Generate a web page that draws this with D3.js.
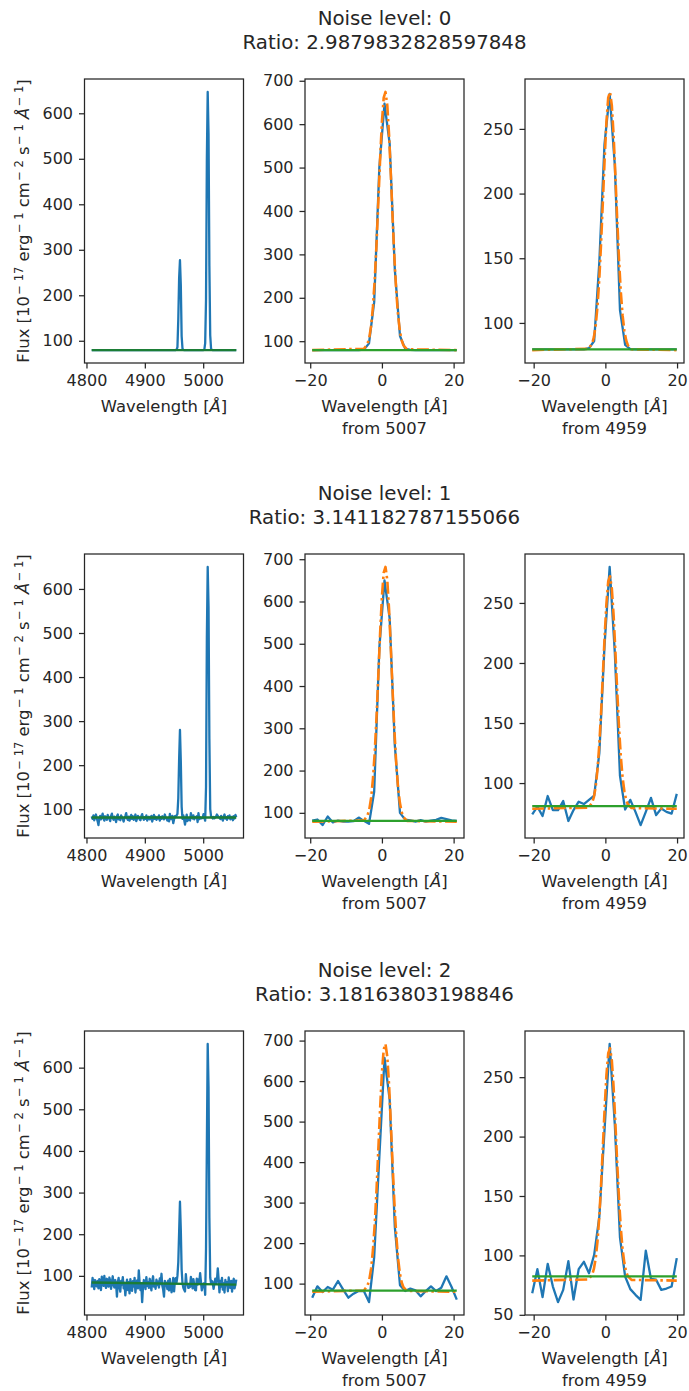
<!DOCTYPE html>
<html>
<head>
<meta charset="utf-8" />
<title>[OIII] line ratio vs noise level</title>
<script src="https://cdn.jsdelivr.net/npm/d3@7"></script>
<style>
  body { margin: 0; background: #fff; }
  svg text { font-family: "DejaVu Sans", sans-serif; fill: #262626; }
</style>
</head>
<body>
<script>
// ---------- DATA ----------
// wavelength grid of the spectrum (Angstrom)
var lamStart = 4809.0, lamStep = 1.44;

var noiseLevels = [0, 1, 2];
var ratios = ["2.9879832828597848", "3.141182787155066", "3.18163803198846"];
var lineCentres = [5007, 4959];

// observed flux, one value per pixel (173 pixels)
var flux0 = [
  79.5, 79.5, 79.5, 79.5, 79.5, 79.5, 79.5, 79.5, 79.5, 79.5,
  79.5, 79.5, 79.5, 79.5, 79.5, 79.5, 79.5, 79.5, 79.5, 79.5,
  79.5, 79.5, 79.5, 79.5, 79.5, 79.5, 79.5, 79.5, 79.5, 79.5,
  79.5, 79.5, 79.5, 79.5, 79.5, 79.5, 79.5, 79.5, 79.5, 79.5,
  79.5, 79.5, 79.5, 79.5, 79.5, 79.5, 79.5, 79.5, 79.5, 79.5,
  79.5, 79.5, 79.5, 79.5, 79.5, 79.5, 79.5, 79.5, 79.5, 79.5,
  79.5, 79.5, 79.5, 79.5, 79.5, 79.5, 79.5, 79.5, 79.5, 79.5,
  79.5, 79.5, 79.5, 79.5, 79.5, 79.5, 79.5, 79.5, 79.5, 79.5,
  79.5, 79.5, 79.5, 79.5, 79.5, 79.5, 79.5, 79.5, 79.5, 79.5,
  79.5, 79.5, 79.5, 79.5, 79.5, 79.5, 79.5, 79.5, 79.5, 79.5,
  79.5,
  80.5, 86, 147, 238, 277, 222, 110, 83, 79.8,          // 4959 line
  79.5, 79.5, 79.5, 79.5, 79.5, 79.5, 79.5, 79.5, 79.5, 79.5,
  79.5, 79.5, 79.5, 79.5, 79.5, 79.5, 79.5, 79.5, 79.5, 79.5,
  79.5, 79.5, 79.5, 79.5,
  80.5, 95, 190, 500, 647, 555, 265, 112, 83, 79.8,     // 5007 line
  79.5, 79.5, 79.5, 79.5, 79.5, 79.5, 79.5, 79.5, 79.5, 79.5,
  79.5, 79.5, 79.5, 79.5, 79.5, 79.5, 79.5, 79.5, 79.5, 79.5,
  79.5, 79.5, 79.5, 79.5, 79.5, 79.5, 79.5, 79.5, 79.5
];

var flux1 = [
  84, 78, 86, 75, 82, 88, 79, 73, 64, 80,
  85, 77, 83, 90, 79, 74, 84, 81, 76, 87,
  82, 78, 73, 85, 90, 80, 76, 83, 79, 71,
  84, 88, 77, 81, 75, 86, 82, 78, 72, 80,
  85, 91, 79, 76, 83, 74, 81, 87, 78, 84,
  76, 80, 88, 73, 79, 85, 82, 77, 75, 84,
  89, 80, 76, 82, 78, 86, 74, 81, 83, 77,
  79, 85, 72, 80, 87, 78, 83, 76, 81, 79,
  86, 74, 82, 78, 84, 80, 77, 88, 81, 79,
  74, 80.4, 72.6, 89.2, 77.5, 77.5, 85, 68.4, 77.5, 84.5,
  82.5, 86, 89.5, 125, 214, 280, 208.5, 106, 78, 86,
  76, 65, 76, 87.7, 73.3, 78.8, 76, 74.5, 91,
  83, 79, 86, 77, 82,
  81.8, 84.2, 71, 91.3, 77.4, 81.8, 79.4, 79.4, 80.2, 88.8,
  81, 74, 150, 490, 650, 560, 260, 100, 84, 82,
  79, 82.6, 79.4, 81.8, 83.4, 88, 85, 82, 81,
  78, 85, 80, 74, 83, 88, 79, 82, 76, 84,
  80, 86, 77, 81, 83, 75, 84, 79, 87, 82
];

var flux2 = [
  72, 95, 84, 68, 90, 78, 75, 88, 70, 92,
  81, 66, 98, 85, 76, 100, 79, 71, 93, 82,
  74, 96, 88, 69, 85, 99, 77, 72, 90, 80,
  50, 84, 95, 73, 62, 88, 79, 97, 70, 83,
  53, 76, 91, 66, 85, 58, 92, 78, 64, 87,
  74, 95, 60, 81, 89, 70, 113, 84, 66, 79,
  37, 72, 90, 83, 68, 97, 76, 85, 71, 93,
  80, 65, 88, 99, 74, 82, 69, 91, 78, 86,
  72, 94, 80, 105, 76, 67, 50, 88, 84, 79,
  68.2, 88.4, 64.9, 92.9, 73.8, 60.7, 71, 95.1, 62.9, 88.4,
  94.6, 85, 100.5, 132.7, 205, 278, 210, 115, 82.2, 71.6,
  66.8, 62.6, 104, 80.3, 79.5, 71, 72.1, 73.8, 97.7,
  85, 70, 92, 78, 66,
  65.3, 93.3, 79.2, 91.6, 85.1, 106.5, 85.1, 65.3, 75.2, 81.7,
  81.7, 54.4, 165, 413, 657, 554, 240, 96, 81.7, 87.6,
  83.5, 68.6, 81.7, 93.3, 81.7, 89.9, 118, 91.6, 60.4,
  88, 74, 95, 67, 82, 60, 90, 77, 85, 63,
  96, 79, 71, 88, 62, 84, 93, 70, 80, 91
];

// pixel index ranges shown in the zoomed panels
var window5007 = [124, 152];
var window4959 = [90, 118];

// fitted line model (offset from line centre, flux)
var fitOffsets5007 = [-5, -4, -3.5, -3, -2.5, -2, -1.5, -1, -0.5, 0, 0.5, 1, 1.5, 2, 2.5, 3, 3.5, 4, 4.5, 5, 5.5, 6, 7];
var fitOffsets4959 = [-4.7, -3.7, -3.2, -2.7, -2.2, -1.7, -1.2, -0.7, -0.2, 0.3, 0.8, 1.3, 1.8, 2.3, 2.8, 3.3, 3.8, 4.3, 4.8, 5.3, 5.8, 6.3, 7.3];
var fitBase5007 = [79.5, 79, 80];
var fitBase4959 = [79, 78.6, 78.8];
var fit5007 = [
  [82.5, 94.4, 109.3, 136.1, 179.6, 242.2, 324.5, 421, 520, 605, 661, 674.3, 643.3, 574.2, 481.2, 381.1, 289.3, 214.8, 160, 124.2, 102.1, 90.2, 81.3],
  [82, 94.1, 109.2, 136.4, 180.5, 243.9, 327.2, 425.1, 525.4, 611.7, 668.5, 681.8, 650.4, 580.3, 486.1, 384.6, 291.6, 216.1, 160.5, 124.3, 102, 89.9, 80.8],
  [83.1, 95.3, 110.7, 138.2, 183, 247.3, 332, 431.3, 533, 620.7, 678.3, 691.8, 659.9, 588.8, 493.2, 390.2, 295.8, 219.2, 162.8, 126, 103.3, 91, 81.8]
];
var fit4959 = [
  [80, 84, 89, 98, 112.6, 133.6, 161.2, 193.6, 226.8, 255.4, 274.2, 278.6, 268.2, 245, 213.8, 180.2, 149.4, 124.4, 106, 94, 86.6, 82.6, 79.6],
  [79.6, 83.5, 88.3, 97, 111.2, 131.6, 158.3, 189.8, 222, 249.7, 268, 272.2, 262.1, 239.6, 209.4, 176.8, 146.9, 122.6, 104.8, 93.2, 86, 82.1, 79.2],
  [79.8, 83.7, 88.6, 97.4, 111.7, 132.3, 159.4, 191.1, 223.6, 251.7, 270.1, 274.4, 264.2, 241.5, 210.9, 178, 147.8, 123.3, 105.3, 93.5, 86.2, 82.3, 79.4]
];

// continuum levels: full range (start, end), zoom windows
var contFull = [[79.5, 79.5], [81.2, 81.2], [84, 79]];
var cont5007 = [79.5, 81, 82.5];
var cont4959 = [79.5, 80.8, 82.4];

// ticks
var xTicksFull = [4800, 4900, 5000];
var xTicksZoom = [-20, 0, 20];
var yTicksFull = [100, 200, 300, 400, 500, 600];
var yTicks5007 = [100, 200, 300, 400, 500, 600, 700];
var yTicks4959 = [50, 100, 150, 200, 250];

// ---------- LAYOUT ----------
var W = 689, H = 1391;
var colX = [84.5, 305, 525], panelW = 159;
var rowY = [79, 554, 1031], panelH = 284;
var ink = "#262626";
var C0 = "#1f77b4", C1 = "#ff7f0e", C2 = "#2ca02c", C2dark = "#1b7d36";
var tickFmt = d3.format("d");

var svg = d3.select("body").append("svg")
    .attr("width", W)
    .attr("height", H);

function padded(ext) {
  var d = (ext[1] - ext[0]) * 0.05;
  return [ext[0] - d, ext[1] + d];
}

function styleAxis(a) {
  a.attr("font-family", "DejaVu Sans")
   .attr("font-size", 16)
   .attr("color", ink);
  a.select(".domain").remove();
  a.selectAll("line").attr("stroke-width", 1.25);
}

function drawPanel(x0, y0, layers, xTicks, yTicks) {
  var g = svg.append("g").attr("transform", "translate(" + x0 + "," + y0 + ")");
  var all = [];
  layers.forEach(function(l) { all = all.concat(l.pts); });

  var x = d3.scaleLinear()
      .domain(padded(d3.extent(all, function(d) { return d[0]; })))
      .range([0, panelW]);
  var y = d3.scaleLinear()
      .domain(padded(d3.extent(all, function(d) { return d[1]; })))
      .range([panelH, 0]);

  var line = d3.line()
      .x(function(d) { return x(d[0]); })
      .y(function(d) { return y(d[1]); });

  layers.forEach(function(l) {
    g.append("path")
      .datum(l.pts)
      .attr("d", line)
      .attr("fill", "none")
      .attr("stroke", l.color)
      .attr("stroke-width", l.width || 2.3)
      .attr("stroke-dasharray", l.dash || null)
      .attr("stroke-linejoin", "round");
  });

  var yd = y.domain(), xd = x.domain();
  var ya = g.append("g")
      .call(d3.axisLeft(y)
        .tickValues(yTicks.filter(function(t) { return t >= yd[0] && t <= yd[1]; }))
        .tickFormat(tickFmt)
        .tickSize(5.5).tickPadding(6));
  styleAxis(ya);

  var xa = g.append("g")
      .attr("transform", "translate(0," + panelH + ")")
      .call(d3.axisBottom(x)
        .tickValues(xTicks.filter(function(t) { return t >= xd[0] && t <= xd[1]; }))
        .tickFormat(tickFmt)
        .tickSize(5.5).tickPadding(6));
  styleAxis(xa);

  g.append("rect")
    .attr("width", panelW)
    .attr("height", panelH)
    .attr("fill", "none")
    .attr("stroke", ink)
    .attr("stroke-width", 1.25);
  return g;
}

function xLabel(g, second) {
  var t = g.append("text")
      .attr("x", panelW / 2)
      .attr("y", panelH + 48.5)
      .attr("text-anchor", "middle")
      .attr("font-size", 16.4);
  t.append("tspan").text("Wavelength [");
  t.append("tspan").attr("font-style", "italic").text("Å");
  t.append("tspan").text("]");
  if (second) {
    g.append("text")
      .attr("x", panelW / 2)
      .attr("y", panelH + 70.5)
      .attr("text-anchor", "middle")
      .attr("font-size", 16.4)
      .text(second);
  }
}

function yLabel(y0) {
  var t = svg.append("text")
      .attr("transform", "translate(29," + (y0 + panelH / 2) + ") rotate(-90)")
      .attr("text-anchor", "middle")
      .attr("font-size", 16.4);
  var parts = [["Flux [10", 0], ["− 17", 1], [" erg", 0], ["− 1", 1], [" cm", 0], ["− 2", 1],
               [" s", 0], ["− 1", 1], [" ", 0], ["Å", 2], ["− 1", 1], ["]", 0]];
  var up = false;
  parts.forEach(function(p) {
    var s = t.append("tspan").text(p[0]);
    if (p[1] === 1) {
      s.attr("font-size", 11.5).attr("dy", up ? 0 : -6.5).attr("dx", 1.5);
      up = true;
    } else {
      if (up) s.attr("dy", 6.5);
      up = false;
      if (p[1] === 2) s.attr("font-style", "italic");
    }
  });
}

var spectra = [flux0, flux1, flux2];

noiseLevels.forEach(function(level, r) {
  var flux = spectra[r];
  var lam = flux.map(function(f, i) { return lamStart + i * lamStep; });
  var full = flux.map(function(f, i) { return [lam[i], f]; });
  var y0 = rowY[r];

  // full spectrum
  var gL = drawPanel(colX[0], y0, [
    { pts: full, color: C0 },
    { pts: [[lam[0], contFull[r][0]], [lam[lam.length - 1], contFull[r][1]]], color: C2dark }
  ], xTicksFull, yTicksFull);
  xLabel(gL, null);
  yLabel(y0);

  // zoom panels
  [[window5007, fitOffsets5007, fit5007, fitBase5007, cont5007, yTicks5007, 1],
   [window4959, fitOffsets4959, fit4959, fitBase4959, cont4959, yTicks4959, 2]].forEach(function(z, k) {
    var c = lineCentres[k];
    var win = full.slice(z[0][0], z[0][1] + 1).map(function(d) { return [d[0] - c, d[1]]; });
    var xa = win[0][0], xb = win[win.length - 1][0];
    var fit = [[xa, z[3][r]]]
      .concat(z[1].map(function(o, i) { return [o, z[2][r][i]]; }))
      .concat([[xb, z[3][r]]]);
    var g = drawPanel(colX[z[6]], y0, [
      { pts: win, color: C0 },
      { pts: fit, color: C1, width: 2.6, dash: "12,3.5,2.5,3.5" },
      { pts: [[xa, z[4][r]], [xb, z[4][r]]], color: C2 }
    ], xTicksZoom, z[5]);
    xLabel(g, "from " + c);
  });

  // title over the middle panel
  var tx = colX[1] + panelW / 2;
  svg.append("text").attr("x", tx).attr("y", y0 - 54).attr("text-anchor", "middle")
    .attr("font-size", 19.8).text("Noise level: " + level);
  svg.append("text").attr("x", tx).attr("y", y0 - 30).attr("text-anchor", "middle")
    .attr("font-size", 19.8).text("Ratio: " + ratios[r]);
});
</script>
</body>
</html>
